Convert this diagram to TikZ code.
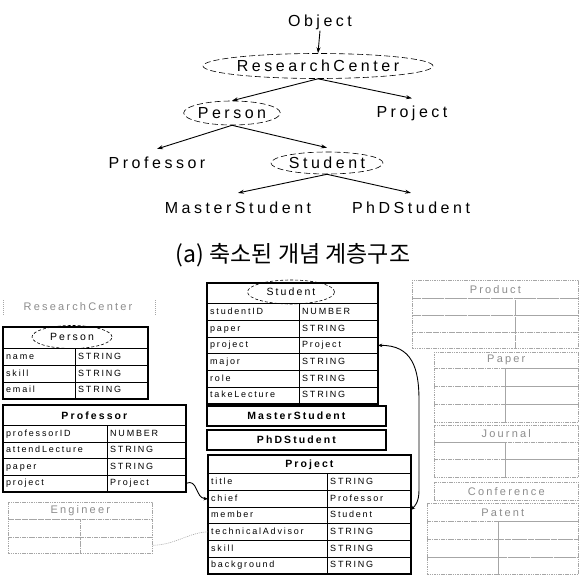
\documentclass[tikz,border=0pt]{standalone}
\usepackage{fontspec}
\setmainfont{Liberation Sans}
\newfontfamily\hfont[LetterSpace=22]{Liberation Sans}
\newfontfamily\cfont[LetterSpace=20]{Liberation Sans}
\newfontfamily\krfont{Noto Sans CJK KR}
\usetikzlibrary{arrows.meta,shapes.geometric}

\tikzset{
 hier/.style={font=\hfont\fontsize{16}{18}\selectfont, inner sep=1pt},
 dellipse/.style={ellipse, draw, dash pattern=on 3pt off 2pt, line width=0.6pt, inner sep=0pt},
 hellipse/.style={ellipse, draw, dash pattern=on 6pt off 3pt, line width=0.6pt, inner sep=0pt},
 harrow/.style={-{Stealth[length=6pt,width=4pt]}, line width=0.9pt},
 cellbox/.style={draw, line width=0.8pt, rectangle, inner sep=0pt},
 fadebox/.style={draw=black!35, line width=0.6pt, dash pattern=on 1.5pt off 0.8pt, rectangle, inner sep=0pt},
 celltext/.style={font=\cfont\fontsize{9}{10}\selectfont, inner sep=0pt, text height=6.5pt, text depth=1.8pt, anchor=west},
 titletext/.style={font=\cfont\bfseries\fontsize{10.5}{12}\selectfont, inner sep=0pt},
 fadetitle/.style={font=\cfont\fontsize{11}{12}\selectfont, text=black!45, inner sep=0pt},
 ellabel/.style={font=\cfont\fontsize{10.5}{12}\selectfont},
 outer/.style={draw, line width=1.5pt},
 fadeline/.style={draw=black!35, line width=0.6pt, dash pattern=on 1pt off 1pt},
 link/.style={line width=0.9pt, {Stealth[length=4.5pt,width=3.5pt]}-{Stealth[length=4.5pt,width=3.5pt]}},
 plink/.style={line width=0.9pt, -{Stealth[length=4.5pt,width=3.5pt]}},
}

\newcommand{\tcell}[7][cellbox]{%
  \pgfmathsetmacro\tcw{#5-#3}\pgfmathsetmacro\tch{#6-#4}%
  \node[#1, minimum width=\tcw pt, minimum height=\tch pt, anchor=north west] (#2) at (#3,#4) {};%
  \node[celltext] (#2-t) at ([xshift=3pt]#2.west) {#7};%
}
\newcommand{\trow}[9][cellbox]{%
  \tcell[#1]{#2-l}{#3}{#6}{#4}{#7}{#8}%
  \tcell[#1]{#2-r}{#4}{#6}{#5}{#7}{#9}%
}
\newcommand{\ttitle}[7][cellbox]{%
  \pgfmathsetmacro\tcw{#5-#3}\pgfmathsetmacro\tch{#6-#4}%
  \node[#1, minimum width=\tcw pt, minimum height=\tch pt, anchor=north west] (#2) at (#3,#4) {};%
  \node[titletext] (#2-t) at (#2.center) {#7};%
}

\begin{document}
\begin{tikzpicture}[x=1pt,y=-1pt]
\useasboundingbox (0,0) rectangle (580,575);

% ---------- (a) hierarchy ----------
\node[hier] (obj) at (320,22) {Object};
\node[hier, hellipse, minimum width=230pt, minimum height=25pt] (rc) at (318,66) {ResearchCenter};
\node[hier, hellipse, minimum width=95pt, minimum height=24pt] (person) at (232,113) {Person};
\node[hier] (project) at (412,113) {Project};
\node[hier] (prof) at (157,163) {Professor};
\node[hier, hellipse, minimum width=112pt, minimum height=22pt] (student) at (327,163) {Student};
\node[hier] (master) at (238,208) {MasterStudent};
\node[hier] (phd) at (411,208) {PhDStudent};
\node[font=\krfont\fontsize{23}{25}\selectfont, inner sep=0pt] (cap) at (293,255) {(a) 축소된 개념 계층구조};

\draw[harrow] (obj.south) -- (rc.north);
\draw[harrow] (rc.south) -- (person.north);
\draw[harrow] (rc.south) -- ([yshift=6pt]project.north);
\draw[harrow] (person.south) -- ([yshift=7pt]prof.north);
\draw[harrow] (person.south) -- ([yshift=4pt]student.north);
\draw[harrow] (student.south) -- ([yshift=8pt]master.north);
\draw[harrow] (student.south) -- ([yshift=8pt]phd.north);

% ---------- faded tables ----------
\begin{scope}
\tikzset{titletext/.style={fadetitle}}
\node[fadetitle] (rc2) at (78,307) {ResearchCenter};
\draw[fadeline] (3,300) -- (3,315);
\draw[fadeline] (155,300) -- (155,315);
% Engineer
\ttitle[fadebox]{eng-h}{8}{502}{152}{519}{Engineer}
\trow[fadebox]{eng-r1}{8}{80}{152}{519}{537}{}{}
\trow[fadebox]{eng-r2}{8}{80}{152}{537}{553}{}{}
% Product
\ttitle[fadebox]{prd-h}{412}{280}{578}{298}{Product}
\trow[fadebox]{prd-r1}{412}{515}{578}{298}{315}{}{}
\trow[fadebox]{prd-r2}{412}{515}{578}{315}{332}{}{}
\trow[fadebox]{prd-r3}{412}{515}{578}{332}{348}{}{}
% Paper
\ttitle[fadebox]{pap-h}{434}{352}{578}{368}{Paper}
\trow[fadebox]{pap-r1}{434}{505}{578}{368}{386}{}{}
\trow[fadebox]{pap-r2}{434}{505}{578}{386}{404}{}{}
\trow[fadebox]{pap-r3}{434}{505}{578}{404}{422}{}{}
% Journal
\ttitle[fadebox]{jou-h}{434}{425}{578}{442}{Journal}
\trow[fadebox]{jou-r1}{434}{505}{578}{442}{459}{}{}
\trow[fadebox]{jou-r2}{434}{505}{578}{459}{477}{}{}
% Conference
\ttitle[fadebox]{con-h}{434}{482}{578}{500}{Conference}
% Patent
\ttitle[fadebox]{pat-h}{427}{503}{578}{521}{Patent}
\trow[fadebox]{pat-r1}{427}{498}{578}{521}{539}{}{}
\trow[fadebox]{pat-r2}{427}{498}{578}{539}{557}{}{}
\trow[fadebox]{pat-r3}{427}{498}{578}{557}{574}{}{}
\end{scope}

% ---------- Person ----------
\ttitle{per-h}{3}{327}{147}{348}{}
\trow{per-r1}{3}{75}{147}{348}{365}{name}{STRING}
\trow{per-r2}{3}{75}{147}{365}{382}{skill}{STRING}
\trow{per-r3}{3}{75}{147}{382}{398}{email}{STRING}
\draw[outer] (per-h.north west) rectangle (per-r3-r.south east);
\node[dellipse, ellabel, minimum width=80pt, minimum height=23pt] (per-e) at (72,337) {Person};

% ---------- Professor ----------
\ttitle{prf-h}{3}{405}{185}{425}{Professor}
\trow{prf-r1}{3}{107}{185}{425}{442}{professorID}{NUMBER}
\trow{prf-r2}{3}{107}{185}{442}{458}{attendLecture}{STRING}
\trow{prf-r3}{3}{107}{185}{458}{475}{paper}{STRING}
\trow{prf-r4}{3}{107}{185}{475}{491}{project}{Project}
\draw[outer] (prf-h.north west) rectangle (prf-r4-r.south east);

% ---------- Student ----------
\ttitle{stu-h}{207}{283}{377}{303}{}
\trow{stu-r1}{207}{299}{377}{303}{320}{studentID}{NUMBER}
\trow{stu-r2}{207}{299}{377}{320}{337}{paper}{STRING}
\trow{stu-r3}{207}{299}{377}{337}{353}{project}{Project}
\trow{stu-r4}{207}{299}{377}{353}{370}{major}{STRING}
\trow{stu-r5}{207}{299}{377}{370}{387}{role}{STRING}
\trow{stu-r6}{207}{299}{377}{387}{403}{takeLecture}{STRING}
\draw[outer] (stu-h.north west) rectangle (stu-r6-r.south east);
\node[dellipse, ellabel, minimum width=87pt, minimum height=24pt] (stu-e) at (291,292) {Student};

% ---------- MasterStudent / PhDStudent ----------
\ttitle{mst-h}{207}{406}{385}{425}{MasterStudent}
\draw[outer] (mst-h.north west) rectangle (mst-h.south east);
\ttitle{phd-h}{207}{430}{385}{449}{PhDStudent}
\draw[outer] (phd-h.north west) rectangle (phd-h.south east);

% ---------- Project ----------
\ttitle{prj-h}{208}{455}{410}{473}{Project}
\trow{prj-r1}{208}{327}{410}{473}{490}{title}{STRING}
\trow{prj-r2}{208}{327}{410}{490}{507}{chief}{Professor}
\trow{prj-r3}{208}{327}{410}{507}{523}{member}{Student}
\trow{prj-r4}{208}{327}{410}{523}{540}{technicalAdvisor}{STRING}
\trow{prj-r5}{208}{327}{410}{540}{557}{skill}{STRING}
\trow{prj-r6}{208}{327}{410}{557}{573}{background}{STRING}
\draw[outer] (prj-h.north west) rectangle (prj-r6-r.south east);

% ---------- connectors ----------
\draw[link] (stu-r3-r.east) .. controls (412,345) and (419,368) .. (419,400) -- (419,490) .. controls (419,502) and (415,506) .. ([yshift=-3pt]prj-r3-r.north east);
\draw[plink] (prf-r4-r.east) .. controls (198,478) and (195,498) .. (prj-r2-l.west);
\draw[fadeline] (eng-r2-r.east) .. controls (175,545) and (190,532) .. (prj-r4-l.west);

\end{tikzpicture}
\end{document}
